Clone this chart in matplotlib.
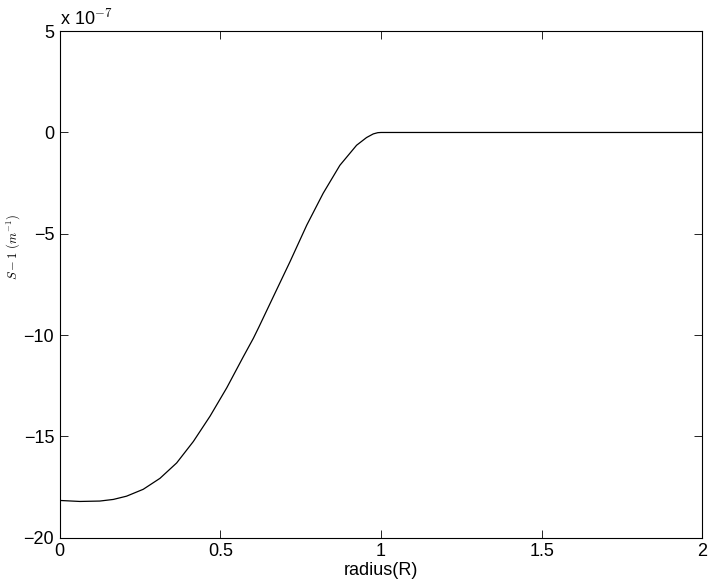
import matplotlib
matplotlib.use("Agg")
import matplotlib.pyplot as plt

plt.rcParams['font.family'] = ['Liberation Sans', 'DejaVu Sans']
plt.rcParams['mathtext.fontset'] = 'cm'

radius = [0.0, 0.063, 0.125, 0.167, 0.208, 0.26, 0.312, 0.364, 0.416, 0.468,
          0.52, 0.571, 0.603, 0.62, 0.665, 0.717, 0.769, 0.82, 0.872, 0.924,
          0.955, 0.976, 0.99, 1.0, 1.5, 2.0]
s_minus_1 = [-18.16, -18.21, -18.19, -18.11, -17.95, -17.61, -17.07, -16.31, -15.25,
             -14.0, -12.6, -11.08, -10.15, -9.6, -8.1, -6.37, -4.57, -3.0, -1.62,
             -0.63, -0.25, -0.07, -0.01, 0.0, 0.0, 0.0]
xticks = [0, 0.5, 1, 1.5, 2]
xtick_labels = ['0', '0.5', '1', '1.5', '2']
yticks = [-20, -15, -10, -5, 0, 5]
ytick_labels = ['\u221220', '\u221215', '\u221210', '\u22125', '0', '5']

fig = plt.figure(figsize=(7.08, 5.88), dpi=100)
ax = fig.add_axes([0.0843, 0.0855, 0.992 - 0.0843, 0.947 - 0.0855])
ax.plot(radius, s_minus_1, color='black', linewidth=0.9)
ax.set_xlim(0, 2)
ax.set_ylim(-20, 5)
ax.set_xticks(xticks)
ax.set_xticklabels(xtick_labels)
ax.set_yticks(yticks)
ax.set_yticklabels(ytick_labels)
ax.tick_params(direction='in', length=6, width=0.6, labelsize=13, top=True, right=True,
               pad=4)
for sp in ax.spines.values():
    sp.set_linewidth(0.8)
ax.set_xlabel('radius(R)', fontsize=13, labelpad=1)
fig.text(13 / 708, 1 - 247 / 588, r'$S-1\ (m^{-1})$', fontsize=9, rotation=90,
         ha='center', va='center')
ax.text(0.0, 1.005, r'x 10$^{-7}$', transform=ax.transAxes, fontsize=13,
        ha='left', va='bottom')

fig.savefig('out.png', dpi=100)
